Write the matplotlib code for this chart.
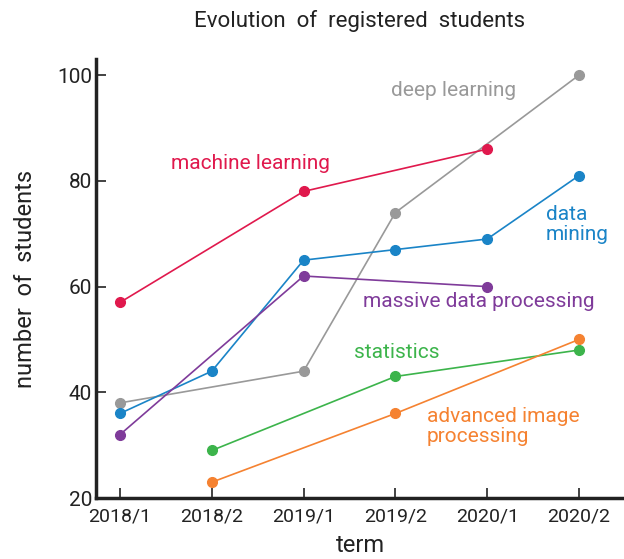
import numpy as np
import matplotlib
matplotlib.use("Agg")
import matplotlib.pyplot as plt

plt.rcParams['font.family'] = ['Roboto', 'DejaVu Sans']

terms = ["2018/1", "2018/2", "2019/1", "2019/2", "2020/1", "2020/2"]

deep_learning_terms = ["2018/1", "2019/1", "2019/2", "2020/2"]
deep_learning = [38, 44, 74, 100]
machine_learning_terms = ["2018/1", "2019/1", "2020/1"]
machine_learning = [57, 78, 86]
data_mining_terms = ["2018/1", "2018/2", "2019/1", "2019/2", "2020/1", "2020/2"]
data_mining = [36, 44, 65, 67, 69, 81]
massive_terms = ["2018/1", "2019/1", "2020/1"]
massive = [32, 62, 60]
statistics_terms = ["2018/2", "2019/2", "2020/2"]
statistics = [29, 43, 48]
image_terms = ["2018/2", "2019/2", "2020/2"]
image = [23, 36, 50]

series = [
    ("deep learning", deep_learning_terms, deep_learning, "#999999", (3.63, 97.1), "center"),
    ("machine learning", machine_learning_terms, machine_learning, "#e0194d", (1.42, 83.3), "center"),
    ("data\nmining", data_mining_terms, data_mining, "#1a84c7", (4.64, 71.8), "left"),
    ("massive data processing", massive_terms, massive, "#7f3b9a", (3.91, 57.2), "center"),
    ("statistics", statistics_terms, statistics, "#3cb44b", (3.02, 47.6), "center"),
    ("advanced image\nprocessing", image_terms, image, "#f58231", (3.34, 33.6), "left"),
]

fig = plt.figure(figsize=(6.24, 5.59), dpi=100)
ax = fig.add_axes([0.154, 0.109, 0.846, 0.785])

for name, tx, vals, color, (lx, ly), ha in series:
    xs = [terms.index(t) for t in tx]
    ax.plot(xs, vals, color=color, lw=1.2, marker='o', markersize=7, clip_on=False)
    ax.text(lx, ly, name, color=color, fontsize=15, ha=ha, va='center', linespacing=1.05)

ax.set_xlim(-0.26, 5.49)
ax.set_ylim(20, 103)
ax.set_xticks(range(len(terms)))
ax.set_xticklabels(terms)
ax.set_yticks([20, 40, 60, 80, 100])
ax.tick_params(axis='both', direction='in', length=7, width=1.2, colors='#222222')
ax.tick_params(axis='x', pad=7, labelsize=14)
ax.tick_params(axis='y', pad=3, labelsize=15)
for s in ['top', 'right']:
    ax.spines[s].set_visible(False)
for s in ['left', 'bottom']:
    ax.spines[s].set_linewidth(2.5)
    ax.spines[s].set_color('#222222')

ax.set_xlabel("term", fontsize=17, color='#222222', labelpad=6)
ax.set_ylabel("number  of  students", fontsize=17, color='#222222', labelpad=14)
fig.text(0.577, 0.963, "Evolution  of  registered  students", ha='center', va='center', fontsize=16, color='#222222')

fig.savefig("out.png", dpi=100)
